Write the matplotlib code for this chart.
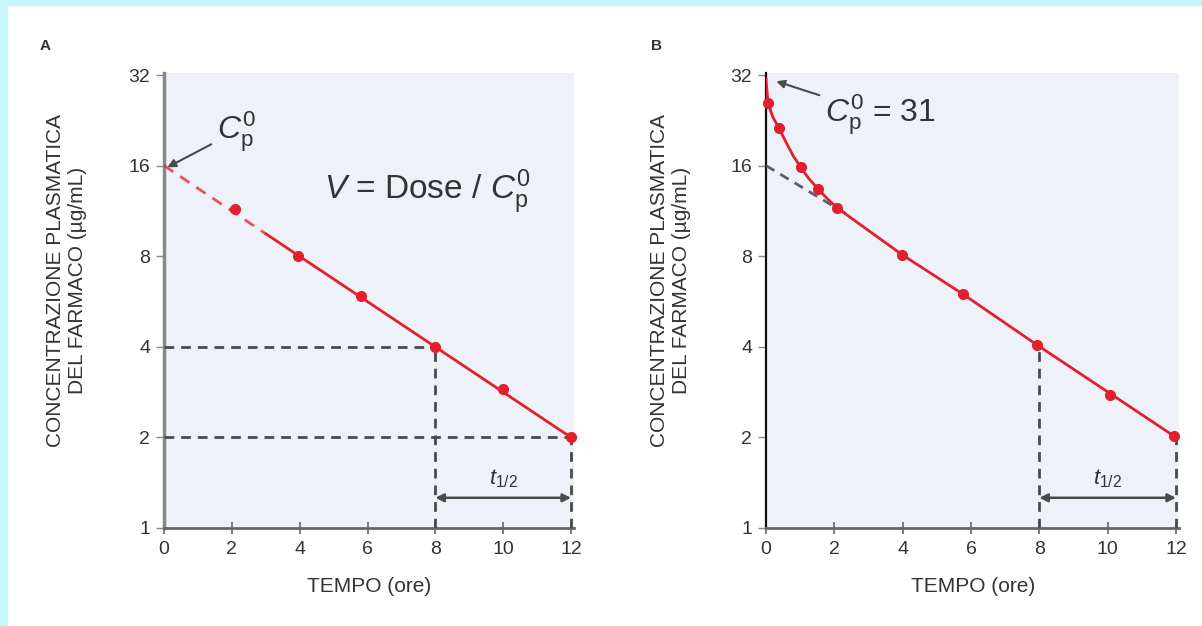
import numpy as np
import matplotlib
matplotlib.use('Agg')
import matplotlib.pyplot as plt
from matplotlib.patches import Rectangle

plt.rcParams['font.family'] = ['Liberation Sans', 'DejaVu Sans']
plt.rcParams['mathtext.fontset'] = 'custom'
plt.rcParams['mathtext.rm'] = 'Liberation Sans'
plt.rcParams['mathtext.it'] = 'Liberation Sans:italic'

# panel A: one-compartment, measured points
tA = [2.1, 3.95, 5.8, 8.0, 10.0, 12.0]
cA = [11.5, 8.0, 5.9, 4.0, 2.9, 2.0]
# back-extrapolated part (dashed) and fitted line (solid)
tA_extra = [0.0, 3.0]
cA_extra = [16.0, 9.5]
tA_fit = [3.0, 12.0]
cA_fit = [9.5, 2.0]

# panel B: two-compartment
tB = [0.06, 0.38, 1.02, 1.52, 2.08, 3.98, 5.77, 7.93, 10.07, 11.94]
cB = [25.8, 21.3, 15.8, 13.4, 11.6, 8.1, 5.98, 4.06, 2.77, 2.02]
# curve
tB_line = [0.0, 0.06, 0.2, 0.38, 0.6, 0.8, 1.02, 1.25, 1.52, 1.8, 2.08, 2.5, 3.98, 5.77, 7.93, 10.07, 12.0]
cB_line = [31.0, 25.8, 23.2, 21.3, 19.0, 17.2, 15.8, 14.5, 13.4, 12.4, 11.6, 10.7, 8.1, 5.98, 4.06, 2.80, 2.0]
tB_extra = [0.0, 2.5]
cB_extra = [16.0, 10.8]

yticks = [1, 2, 4, 8, 16, 32]
xticks = [0, 2, 4, 6, 8, 10, 12]

red = '#e2202d'
dark = '#4a4a4a'
bg = '#eef1f8'
txt = '#333333'

fig = plt.figure(figsize=(12.02, 6.26), dpi=100)
fig.patches.append(Rectangle((0, 1 - 5 / 626), 1, 5 / 626, transform=fig.transFigure,
                             color='#c6f6fb', zorder=0))
fig.patches.append(Rectangle((0, 0), 7 / 1202, 1, transform=fig.transFigure,
                             color='#c6f6fb', zorder=0))

axA = fig.add_axes([164 / 1202, 98 / 626, 410.4 / 1202, 455 / 626])
axB = fig.add_axes([766 / 1202, 98 / 626, 413.4 / 1202, 455 / 626])


def setup(ax, left_color, left_lw, label_x):
    ax.set_facecolor(bg)
    ax.set_yscale('log', base=2)
    ax.set_xlim(0, 12.1)
    ax.set_ylim(1, 32.5)
    ax.set_yticks(yticks)
    ax.set_yticklabels([str(v) for v in yticks])
    ax.yaxis.set_minor_locator(matplotlib.ticker.NullLocator())
    ax.set_xticks(xticks)
    for s in ['top', 'right']:
        ax.spines[s].set_visible(False)
    ax.spines['left'].set_color(left_color)
    ax.spines['left'].set_linewidth(left_lw)
    ax.spines['bottom'].set_color('#666666')
    ax.spines['bottom'].set_linewidth(2)
    ax.tick_params(axis='y', direction='out', length=6, width=1, color='#888888',
                   labelsize=14, labelcolor=txt, pad=4)
    ax.tick_params(axis='x', direction='inout', length=8, width=1.2, color='#666666',
                   labelsize=14, labelcolor=txt, pad=5)
    ax.set_xlabel('TEMPO (ore)', fontsize=15, color=txt, labelpad=14)
    ax.set_ylabel('CONCENTRAZIONE PLASMATICA\nDEL FARMACO (µg/mL)', fontsize=15,
                  color=txt, linespacing=1.2)
    ax.yaxis.set_label_coords(label_x, 0.543)
    # half-life bracket
    ax.plot([8, 8], [1, 4], ls=(0, (3.5, 2.5)), color=dark, lw=2, zorder=3)
    ax.plot([12, 12], [1, 2], ls=(0, (3.5, 2.5)), color=dark, lw=2, zorder=3)
    ax.annotate('', xy=(12, 1.26), xytext=(8, 1.26),
                arrowprops=dict(arrowstyle='<|-|>', color=dark, lw=1.8,
                                mutation_scale=12, shrinkA=0, shrinkB=0))
    ax.text(10, 1.46, r'$t_{1/2}$', fontsize=16, color=txt, ha='center', va='center')


setup(axA, '#888888', 2.5, -0.187)
setup(axB, '#111111', 1.6, -0.181)

# panel A
axA.plot([0, 8], [4, 4], ls=(0, (3.5, 2.5)), color=dark, lw=2, zorder=3)
axA.plot([0, 12], [2, 2], ls=(0, (3.5, 2.5)), color=dark, lw=2, zorder=3)
axA.plot(tA_extra, cA_extra, ls=(0, (4, 3)), color=red, lw=2, alpha=0.75, zorder=4)
axA.plot(tA_fit, cA_fit, color=red, lw=2, zorder=4)
axA.plot(tA, cA, 'o', color=red, ms=7, zorder=5, clip_on=False)
axA.annotate(r'$C_\mathrm{p}^0$', xy=(0.1, 15.8), xytext=(1.55, 20.8),
             fontsize=23, color=txt, va='center',
             arrowprops=dict(arrowstyle='-|>', color=dark, lw=1.5,
                             mutation_scale=12, shrinkA=2, shrinkB=0))
axA.text(7.75, 13.1, r'$V$ = Dose / $C_\mathrm{p}^0$', fontsize=24, color=txt,
         ha='center', va='center')
axA.text(-3.5, 40, 'A', fontsize=11, fontweight='bold', color=txt,
         ha='center', va='center')

# panel B
axB.plot(tB_extra, cB_extra, ls=(0, (3.5, 2.5)), color='#556070', lw=2, zorder=3)
axB.plot(tB_line, cB_line, color=red, lw=2, zorder=4)
axB.plot(tB, cB, 'o', color=red, ms=7, zorder=5, clip_on=False)
axB.annotate(r'$C_\mathrm{p}^0$ = 31', xy=(0.3, 30.5), xytext=(1.72, 23.6),
             fontsize=23, color=txt, va='center',
             arrowprops=dict(arrowstyle='-|>', color=dark, lw=1.5,
                             mutation_scale=12, shrinkA=2, shrinkB=0))
axB.text(-3.2, 40, 'B', fontsize=11, fontweight='bold', color=txt,
         ha='center', va='center')

fig.savefig('out.png', dpi=100, facecolor='white')
